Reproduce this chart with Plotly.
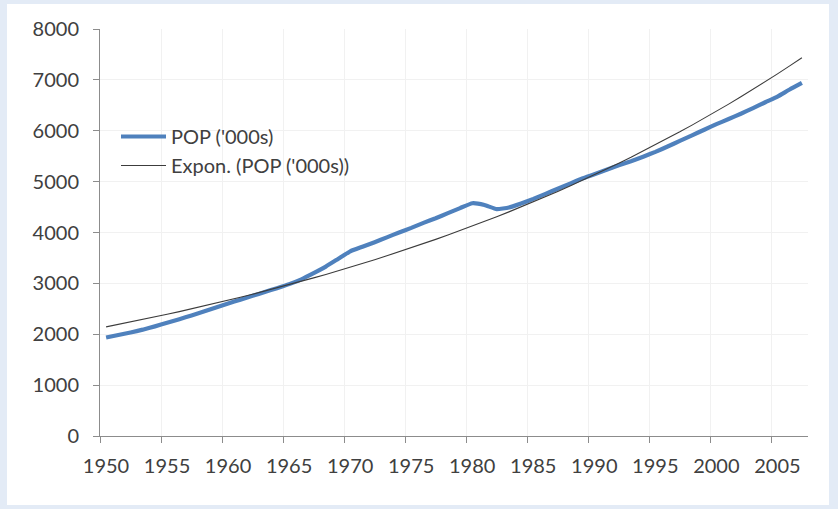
import numpy as np
import plotly.graph_objects as go

years = list(range(1950, 2008))
pop = [1935, 1985, 2035, 2090, 2155, 2225, 2295, 2370, 2445, 2525,
       2605, 2680, 2755, 2830, 2905, 2985, 3080, 3200, 3330, 3480,
       3630, 3720, 3810, 3905, 4000, 4090, 4190, 4280, 4380, 4480,
       4575, 4540, 4460, 4490, 4570, 4660, 4760, 4860, 4960, 5060,
       5145, 5235, 5320, 5400, 5490, 5585, 5690, 5800, 5910, 6020,
       6130, 6230, 6335, 6445, 6560, 6670, 6810, 6940]
tick_years = [1950, 1955, 1960, 1965, 1970, 1975, 1980, 1985, 1990, 1995, 2000, 2005]
series_name = "POP ('000s)"
trend_name = "Expon. (POP ('000s))"

# Excel-style exponential trendline: least-squares fit of ln(y) on x
x = np.array(years, dtype=float)
b, a = np.polyfit(x, np.log(np.array(pop, dtype=float)), 1)
trend = np.exp(a + b * x)

W, H = 838, 509
L, R, T, B = 100, 808, 29, 436
font = "Lato, 'Open Sans', sans-serif"
txt = "#404040"
axc = "#8c8c8c"
frame_bg = "#e3ebf6"

fig = go.Figure()
fig.add_trace(go.Scatter(x=years, y=pop, mode="lines", name=series_name,
                         line=dict(color="#4f81bd", width=4.2,
                                   shape="spline", smoothing=0.4)))
fig.add_trace(go.Scatter(x=years, y=trend, mode="lines", name=trend_name,
                         line=dict(color="#3c3c3c", width=1.1)))

def px2x(p):
    return (p - L) / (R - L)

def py2y(p):
    return (B - p) / (B - T)

fig.add_shape(type="rect", xref="paper", yref="paper", layer="below",
              x0=px2x(7), x1=px2x(829), y0=py2y(505), y1=py2y(4),
              fillcolor="white", line=dict(width=0))

fig.update_layout(
    width=W, height=H,
    margin=dict(l=L, r=W - R, t=T, b=H - B),
    paper_bgcolor=frame_bg,
    plot_bgcolor="white",
    font=dict(family=font, size=20, color=txt),
    showlegend=True,
    legend=dict(x=px2x(116), y=py2y(117), xanchor="left", yanchor="top",
                bgcolor="rgba(0,0,0,0)", font=dict(size=20, color=txt),
                tracegroupgap=0, itemwidth=45),
    xaxis=dict(range=[1949.5, 2007.5],
               tickvals=[y - 0.5 for y in tick_years],
               ticktext=[str(y) for y in tick_years],
               ticklabelshift=6, ticklabelstandoff=6,
               ticks="outside", ticklen=6, tickcolor=axc,
               showline=True, linecolor=axc, linewidth=1,
               showgrid=True, gridcolor="#f1f1f1", gridwidth=1,
               zeroline=False, tickfont=dict(size=20, color=txt)),
    yaxis=dict(range=[0, 8000], dtick=1000, tick0=0,
               ticks="outside", ticklen=6, tickcolor=axc,
               ticklabelstandoff=10,
               showline=True, linecolor=axc, linewidth=1,
               showgrid=True, gridcolor="#f1f1f1", gridwidth=1,
               zeroline=False, tickfont=dict(size=20, color=txt)),
)

fig.write_html(
    "out.html",
    config={"displayModeBar": False},
    post_script="document.body.style.margin='0';"
                "document.body.style.background='" + frame_bg + "';",
)
